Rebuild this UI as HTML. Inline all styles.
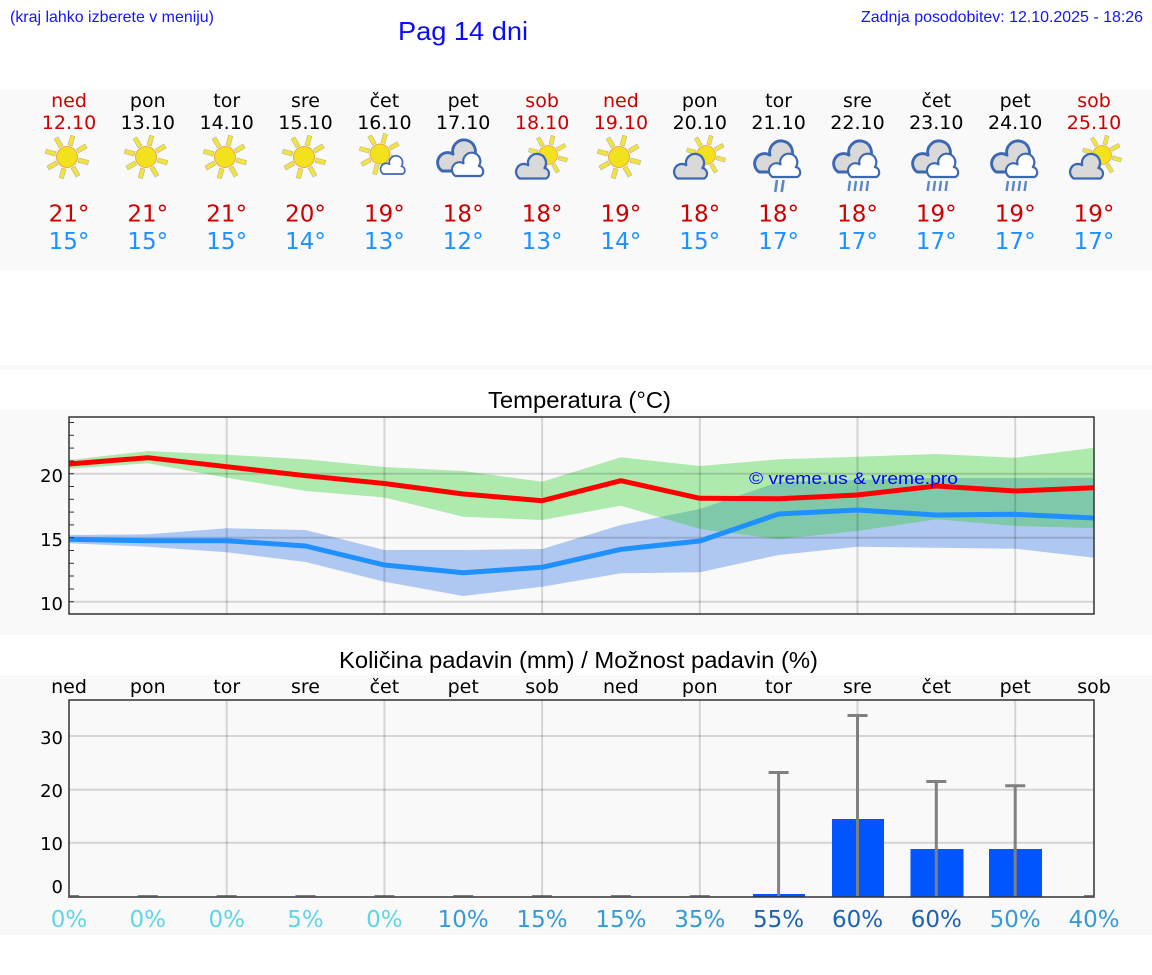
<!DOCTYPE html>
<html><head><meta charset="utf-8"><style>
html,body{margin:0;padding:0;background:#fff;}
svg{display:block;}
.dj{font-family:"DejaVu Sans","Liberation Sans",sans-serif;}
.ls{font-family:"Liberation Sans",Arial,sans-serif;}
</style></head><body>
<svg width="1152" height="975" viewBox="0 0 1152 975" xmlns="http://www.w3.org/2000/svg">
<defs>
  <g id="sun">
    <g fill="#f3e43c" stroke="#b9b49a" stroke-width="0.6">
      <rect x="-2.2" y="-22" width="4.4" height="10" transform="rotate(15)"/>
      <rect x="-2.2" y="-22" width="4.4" height="10" transform="rotate(60)"/>
      <rect x="-2.2" y="-22" width="4.4" height="10" transform="rotate(105)"/>
      <rect x="-2.2" y="-22" width="4.4" height="10" transform="rotate(150)"/>
      <rect x="-2.2" y="-22" width="4.4" height="10" transform="rotate(195)"/>
      <rect x="-2.2" y="-22" width="4.4" height="10" transform="rotate(240)"/>
      <rect x="-2.2" y="-22" width="4.4" height="10" transform="rotate(285)"/>
      <rect x="-2.2" y="-22" width="4.4" height="10" transform="rotate(330)"/>
    </g>
    <circle r="10.5" fill="#f2e21e" stroke="#eea540" stroke-width="1"/>
  </g>
  <path id="cl" d="M-14,10 L14,10 A6,6 0 0 0 12,-1 A9.5,9.5 0 1 0 -5,-4 A7.5,7.5 0 0 0 -14,10 Z" stroke="#3c68b2" stroke-width="2.4" stroke-linejoin="round"/>
  <g id="cgray"><use href="#cl" fill="#d9d9d9"/></g>
  <g id="cwhite"><use href="#cl" fill="#ffffff"/></g>
  <g id="i_sun"><use href="#sun"/></g>
  <g id="i_sunwc">
    <use href="#sun" transform="translate(-4,-3) scale(0.95)"/>
    <use href="#cwhite" transform="translate(9,10) scale(0.7)"/>
  </g>
  <g id="i_cloudy">
    <use href="#cgray" transform="translate(-3,-6) scale(1.2)"/>
    <use href="#cwhite" transform="translate(6,2) scale(0.9)"/>
  </g>
  <g id="i_sungc">
    <use href="#sun" transform="translate(6,-2) scale(0.9)"/>
    <use href="#cgray" transform="translate(-9,12) scale(0.95)"/>
  </g>
  <g id="i_rain2">
    <use href="#cgray" transform="translate(-3,-6) scale(1.2)"/>
    <use href="#cwhite" transform="translate(6,2) scale(0.9)"/>
    <g stroke="#5a88c6" stroke-width="2.6"><line x1="-2" y1="14" x2="-3.8" y2="26"/><line x1="4.5" y1="14" x2="2.7" y2="26"/></g>
  </g>
  <g id="i_rain4">
    <use href="#cgray" transform="translate(-3,-6) scale(1.2)"/>
    <use href="#cwhite" transform="translate(6,2) scale(0.9)"/>
    <g stroke="#5a88c6" stroke-width="2.4"><line x1="-8" y1="15" x2="-9.4" y2="25"/><line x1="-2" y1="15" x2="-3.4" y2="25"/><line x1="4" y1="15" x2="2.6" y2="25"/><line x1="10" y1="15" x2="8.6" y2="25"/></g>
  </g>
  <clipPath id="blueclip"><polygon points="69,535 147.8,534.3 226.7,528.3 305.5,530 384.4,550 463.2,550 542.1,549 620.9,525 699.8,509 778.6,482 857.5,480 936.3,478 1015.2,478 1094,477.7 1094,557.7 1015.2,548.7 936.3,547.7 857.5,546.7 778.6,555 699.8,572.3 620.9,573.3 542.1,586.7 463.2,596 384.4,581.7 305.5,562 226.7,552.3 147.8,546.7 69,543.3"/></clipPath>
</defs>

<rect x="0" y="0" width="1152" height="975" fill="#ffffff"/>
<rect x="0" y="90" width="1152" height="180" fill="#f9f9f9"/>
<rect x="0" y="365" width="1152" height="5" fill="#f9f9f9"/>
<rect x="0" y="410" width="1152" height="225" fill="#f9f9f9"/>
<rect x="0" y="675" width="1152" height="260" fill="#f9f9f9"/>

<text class="ls" x="10" y="22" font-size="16" fill="#1414ff" textLength="204" lengthAdjust="spacingAndGlyphs">(kraj lahko izberete v meniju)</text>
<text class="ls" x="398" y="40" font-size="26" fill="#0a0aff" textLength="130" lengthAdjust="spacingAndGlyphs">Pag 14 dni</text>
<text class="ls" x="1143" y="22" font-size="16" fill="#1414ff" text-anchor="end" textLength="282" lengthAdjust="spacingAndGlyphs">Zadnja posodobitev: 12.10.2025 - 18:26</text>

<g class="dj" font-size="19" text-anchor="middle">
  <text x="69" y="107" fill="#cc0000">ned</text><text x="69" y="129" fill="#cc0000">12.10</text>
  <text x="147.8" y="107" fill="#000">pon</text><text x="147.8" y="129" fill="#000">13.10</text>
  <text x="226.7" y="107" fill="#000">tor</text><text x="226.7" y="129" fill="#000">14.10</text>
  <text x="305.5" y="107" fill="#000">sre</text><text x="305.5" y="129" fill="#000">15.10</text>
  <text x="384.4" y="107" fill="#000">čet</text><text x="384.4" y="129" fill="#000">16.10</text>
  <text x="463.2" y="107" fill="#000">pet</text><text x="463.2" y="129" fill="#000">17.10</text>
  <text x="542.1" y="107" fill="#cc0000">sob</text><text x="542.1" y="129" fill="#cc0000">18.10</text>
  <text x="620.9" y="107" fill="#cc0000">ned</text><text x="620.9" y="129" fill="#cc0000">19.10</text>
  <text x="699.8" y="107" fill="#000">pon</text><text x="699.8" y="129" fill="#000">20.10</text>
  <text x="778.6" y="107" fill="#000">tor</text><text x="778.6" y="129" fill="#000">21.10</text>
  <text x="857.5" y="107" fill="#000">sre</text><text x="857.5" y="129" fill="#000">22.10</text>
  <text x="936.3" y="107" fill="#000">čet</text><text x="936.3" y="129" fill="#000">23.10</text>
  <text x="1015.2" y="107" fill="#000">pet</text><text x="1015.2" y="129" fill="#000">24.10</text>
  <text x="1094" y="107" fill="#cc0000">sob</text><text x="1094" y="129" fill="#cc0000">25.10</text>
</g>
<g>
  <use href="#i_sun" transform="translate(67,157)"/>
  <use href="#i_sun" transform="translate(146,157)"/>
  <use href="#i_sun" transform="translate(225,157)"/>
  <use href="#i_sun" transform="translate(304,157)"/>
  <use href="#i_sunwc" transform="translate(384,157)"/>
  <use href="#i_cloudy" transform="translate(462,165)"/>
  <use href="#i_sungc" transform="translate(542,157)"/>
  <use href="#i_sun" transform="translate(619,157)"/>
  <use href="#i_sungc" transform="translate(700,157)"/>
  <use href="#i_rain2" transform="translate(779,166)"/>
  <use href="#i_rain4" transform="translate(858,166)"/>
  <use href="#i_rain4" transform="translate(937,166)"/>
  <use href="#i_rain4" transform="translate(1016,166)"/>
  <use href="#i_sungc" transform="translate(1096,157)"/>
</g>
<g class="dj" font-size="23" text-anchor="middle">
  <g fill="#cc0000">
    <text x="69" y="221.5">21°</text><text x="147.8" y="221.5">21°</text><text x="226.7" y="221.5">21°</text><text x="305.5" y="221.5">20°</text><text x="384.4" y="221.5">19°</text><text x="463.2" y="221.5">18°</text><text x="542.1" y="221.5">18°</text><text x="620.9" y="221.5">19°</text><text x="699.8" y="221.5">18°</text><text x="778.6" y="221.5">18°</text><text x="857.5" y="221.5">18°</text><text x="936.3" y="221.5">19°</text><text x="1015.2" y="221.5">19°</text><text x="1094" y="221.5">19°</text>
  </g>
  <g fill="#1e90ff">
    <text x="69" y="249">15°</text><text x="147.8" y="249">15°</text><text x="226.7" y="249">15°</text><text x="305.5" y="249">14°</text><text x="384.4" y="249">13°</text><text x="463.2" y="249">12°</text><text x="542.1" y="249">13°</text><text x="620.9" y="249">14°</text><text x="699.8" y="249">15°</text><text x="778.6" y="249">17°</text><text x="857.5" y="249">17°</text><text x="936.3" y="249">17°</text><text x="1015.2" y="249">17°</text><text x="1094" y="249">17°</text>
  </g>
</g>

<text class="ls" x="579.5" y="408" font-size="23" fill="#000" text-anchor="middle" textLength="183" lengthAdjust="spacingAndGlyphs">Temperatura (°C)</text>
<rect x="69" y="417" width="1025" height="197" fill="#f9f9f9"/>
<polygon fill="#afc8f2" points="69,535 147.8,534.3 226.7,528.3 305.5,530 384.4,550 463.2,550 542.1,549 620.9,525 699.8,509 778.6,482 857.5,480 936.3,478 1015.2,478 1094,477.7 1094,557.7 1015.2,548.7 936.3,547.7 857.5,546.7 778.6,555 699.8,572.3 620.9,573.3 542.1,586.7 463.2,596 384.4,581.7 305.5,562 226.7,552.3 147.8,546.7 69,543.3"/>
<polygon fill="#aeeaae" points="69,460 147.8,451 226.7,454.7 305.5,459.3 384.4,467 463.2,471 542.1,481.7 620.9,457.3 699.8,466 778.6,459.3 857.5,456.7 936.3,454 1015.2,457.7 1094,447.7 1094,528.3 1015.2,526 936.3,519.3 857.5,531 778.6,539.3 699.8,529 620.9,505.7 542.1,520 463.2,516.7 384.4,497.5 305.5,491 226.7,477.7 147.8,463.3 69,468.7"/>
<polygon fill="#7fc8a9" clip-path="url(#blueclip)" points="69,460 147.8,451 226.7,454.7 305.5,459.3 384.4,467 463.2,471 542.1,481.7 620.9,457.3 699.8,466 778.6,459.3 857.5,456.7 936.3,454 1015.2,457.7 1094,447.7 1094,528.3 1015.2,526 936.3,519.3 857.5,531 778.6,539.3 699.8,529 620.9,505.7 542.1,520 463.2,516.7 384.4,497.5 305.5,491 226.7,477.7 147.8,463.3 69,468.7"/>
<g stroke="rgba(0,0,0,0.15)" stroke-width="2">
  <line x1="69" y1="473.7" x2="1094" y2="473.7"/>
  <line x1="69" y1="537.7" x2="1094" y2="537.7"/>
  <line x1="69" y1="601.7" x2="1094" y2="601.7"/>
  <line x1="226.7" y1="417" x2="226.7" y2="614"/>
  <line x1="384.4" y1="417" x2="384.4" y2="614"/>
  <line x1="542.1" y1="417" x2="542.1" y2="614"/>
  <line x1="699.8" y1="417" x2="699.8" y2="614"/>
  <line x1="857.5" y1="417" x2="857.5" y2="614"/>
  <line x1="1015.2" y1="417" x2="1015.2" y2="614"/>
</g>
<polyline fill="none" stroke="#ff0000" stroke-width="5" stroke-linejoin="round" points="69,464 147.8,457.7 226.7,466.7 305.5,475.7 384.4,483.5 463.2,494 542.1,500.7 620.9,480.7 699.8,498.3 778.6,498.7 857.5,495 936.3,486 1015.2,491 1094,487.7"/>
<polyline fill="none" stroke="#1e90ff" stroke-width="5" stroke-linejoin="round" points="69,539.3 147.8,540.7 226.7,540.7 305.5,546 384.4,565 463.2,572.7 542.1,567.3 620.9,549.3 699.8,541 778.6,514 857.5,510 936.3,515 1015.2,514.3 1094,518"/>
<text class="ls" x="749" y="484" font-size="17" fill="#0000ff" textLength="209" lengthAdjust="spacingAndGlyphs">© vreme.us &amp; vreme.pro</text>
<g stroke="#333" stroke-width="1">
  <line x1="69" y1="589" x2="74" y2="589"/><line x1="69" y1="576" x2="74" y2="576"/><line x1="69" y1="563.3" x2="74" y2="563.3"/><line x1="69" y1="550.5" x2="74" y2="550.5"/>
  <line x1="69" y1="524.9" x2="74" y2="524.9"/><line x1="69" y1="512.1" x2="74" y2="512.1"/><line x1="69" y1="499.3" x2="74" y2="499.3"/><line x1="69" y1="486.5" x2="74" y2="486.5"/>
  <line x1="69" y1="460.9" x2="74" y2="460.9"/><line x1="69" y1="448.1" x2="74" y2="448.1"/><line x1="69" y1="435.3" x2="74" y2="435.3"/><line x1="69" y1="422.5" x2="74" y2="422.5"/>
  <line x1="69" y1="473.7" x2="74" y2="473.7"/><line x1="69" y1="537.7" x2="74" y2="537.7"/><line x1="69" y1="601.7" x2="74" y2="601.7"/>
</g>
<rect x="69" y="417" width="1025" height="197" fill="none" stroke="#333" stroke-width="1.5"/>
<g class="dj" font-size="18" fill="#000" text-anchor="end">
  <text x="63" y="482">20</text><text x="63" y="546">15</text><text x="63" y="610">10</text>
</g>

<text class="ls" x="578.5" y="668" font-size="23" fill="#000" text-anchor="middle" textLength="479" lengthAdjust="spacingAndGlyphs">Količina padavin (mm) / Možnost padavin (%)</text>
<g class="dj" font-size="19" fill="#000" text-anchor="middle">
  <text x="69" y="693">ned</text><text x="147.8" y="693">pon</text><text x="226.7" y="693">tor</text><text x="305.5" y="693">sre</text><text x="384.4" y="693">čet</text><text x="463.2" y="693">pet</text><text x="542.1" y="693">sob</text><text x="620.9" y="693">ned</text><text x="699.8" y="693">pon</text><text x="778.6" y="693">tor</text><text x="857.5" y="693">sre</text><text x="936.3" y="693">čet</text><text x="1015.2" y="693">pet</text><text x="1094" y="693">sob</text>
</g>
<rect x="69" y="700" width="1025" height="197" fill="#f9f9f9"/>
<g stroke="rgba(0,0,0,0.15)" stroke-width="2">
  <line x1="69" y1="736" x2="1094" y2="736"/>
  <line x1="69" y1="789.7" x2="1094" y2="789.7"/>
  <line x1="69" y1="842.7" x2="1094" y2="842.7"/>
  <line x1="226.7" y1="700" x2="226.7" y2="897"/>
  <line x1="384.4" y1="700" x2="384.4" y2="897"/>
  <line x1="542.1" y1="700" x2="542.1" y2="897"/>
  <line x1="699.8" y1="700" x2="699.8" y2="897"/>
  <line x1="857.5" y1="700" x2="857.5" y2="897"/>
  <line x1="1015.2" y1="700" x2="1015.2" y2="897"/>
</g>
<g fill="#0055ff">
  <rect x="753" y="894" width="52" height="3"/>
  <rect x="832" y="819" width="52" height="78"/>
  <rect x="910.5" y="849" width="53" height="48"/>
  <rect x="989" y="849" width="53" height="48"/>
</g>
<g stroke="#808080" stroke-width="3">
  <line x1="778.6" y1="896" x2="778.6" y2="772"/><line x1="768.6" y1="772.5" x2="788.6" y2="772.5"/>
  <line x1="857.5" y1="896" x2="857.5" y2="715.5"/><line x1="847.5" y1="715.5" x2="867.5" y2="715.5"/>
  <line x1="936.3" y1="896" x2="936.3" y2="781.5"/><line x1="926.3" y1="781.5" x2="946.3" y2="781.5"/>
  <line x1="1015.2" y1="896" x2="1015.2" y2="785.7"/><line x1="1005.2" y1="785.7" x2="1025.2" y2="785.7"/>
</g>
<rect x="69" y="700" width="1025" height="197" fill="none" stroke="#333" stroke-width="1.5"/>
<g stroke="#555" stroke-width="2.5">
  <line x1="69" y1="896.5" x2="79" y2="896.5"/>
  <line x1="137.8" y1="896.5" x2="157.8" y2="896.5"/>
  <line x1="216.7" y1="896.5" x2="236.7" y2="896.5"/>
  <line x1="295.5" y1="896.5" x2="315.5" y2="896.5"/>
  <line x1="374.4" y1="896.5" x2="394.4" y2="896.5"/>
  <line x1="453.2" y1="896.5" x2="473.2" y2="896.5"/>
  <line x1="532.1" y1="896.5" x2="552.1" y2="896.5"/>
  <line x1="610.9" y1="896.5" x2="630.9" y2="896.5"/>
  <line x1="689.8" y1="896.5" x2="709.8" y2="896.5"/>
  <line x1="1084" y1="896.5" x2="1094" y2="896.5"/>
</g>
<g class="dj" font-size="18" fill="#000" text-anchor="end">
  <text x="63" y="744">30</text><text x="63" y="797">20</text><text x="63" y="850">10</text><text x="63" y="893">0</text>
</g>
<g class="dj" font-size="23" text-anchor="middle">
  <text x="69" y="927" fill="#5cd6e8">0%</text>
  <text x="147.8" y="927" fill="#5cd6e8">0%</text>
  <text x="226.7" y="927" fill="#5cd6e8">0%</text>
  <text x="305.5" y="927" fill="#5cd6e8">5%</text>
  <text x="384.4" y="927" fill="#5cd6e8">0%</text>
  <text x="463.2" y="927" fill="#339ad8">10%</text>
  <text x="542.1" y="927" fill="#339ad8">15%</text>
  <text x="620.9" y="927" fill="#339ad8">15%</text>
  <text x="699.8" y="927" fill="#339ad8">35%</text>
  <text x="778.6" y="927" fill="#1c62b4">55%</text>
  <text x="857.5" y="927" fill="#1c62b4">60%</text>
  <text x="936.3" y="927" fill="#1c62b4">60%</text>
  <text x="1015.2" y="927" fill="#339ad8">50%</text>
  <text x="1094" y="927" fill="#339ad8">40%</text>
</g>
</svg>
</body></html>
